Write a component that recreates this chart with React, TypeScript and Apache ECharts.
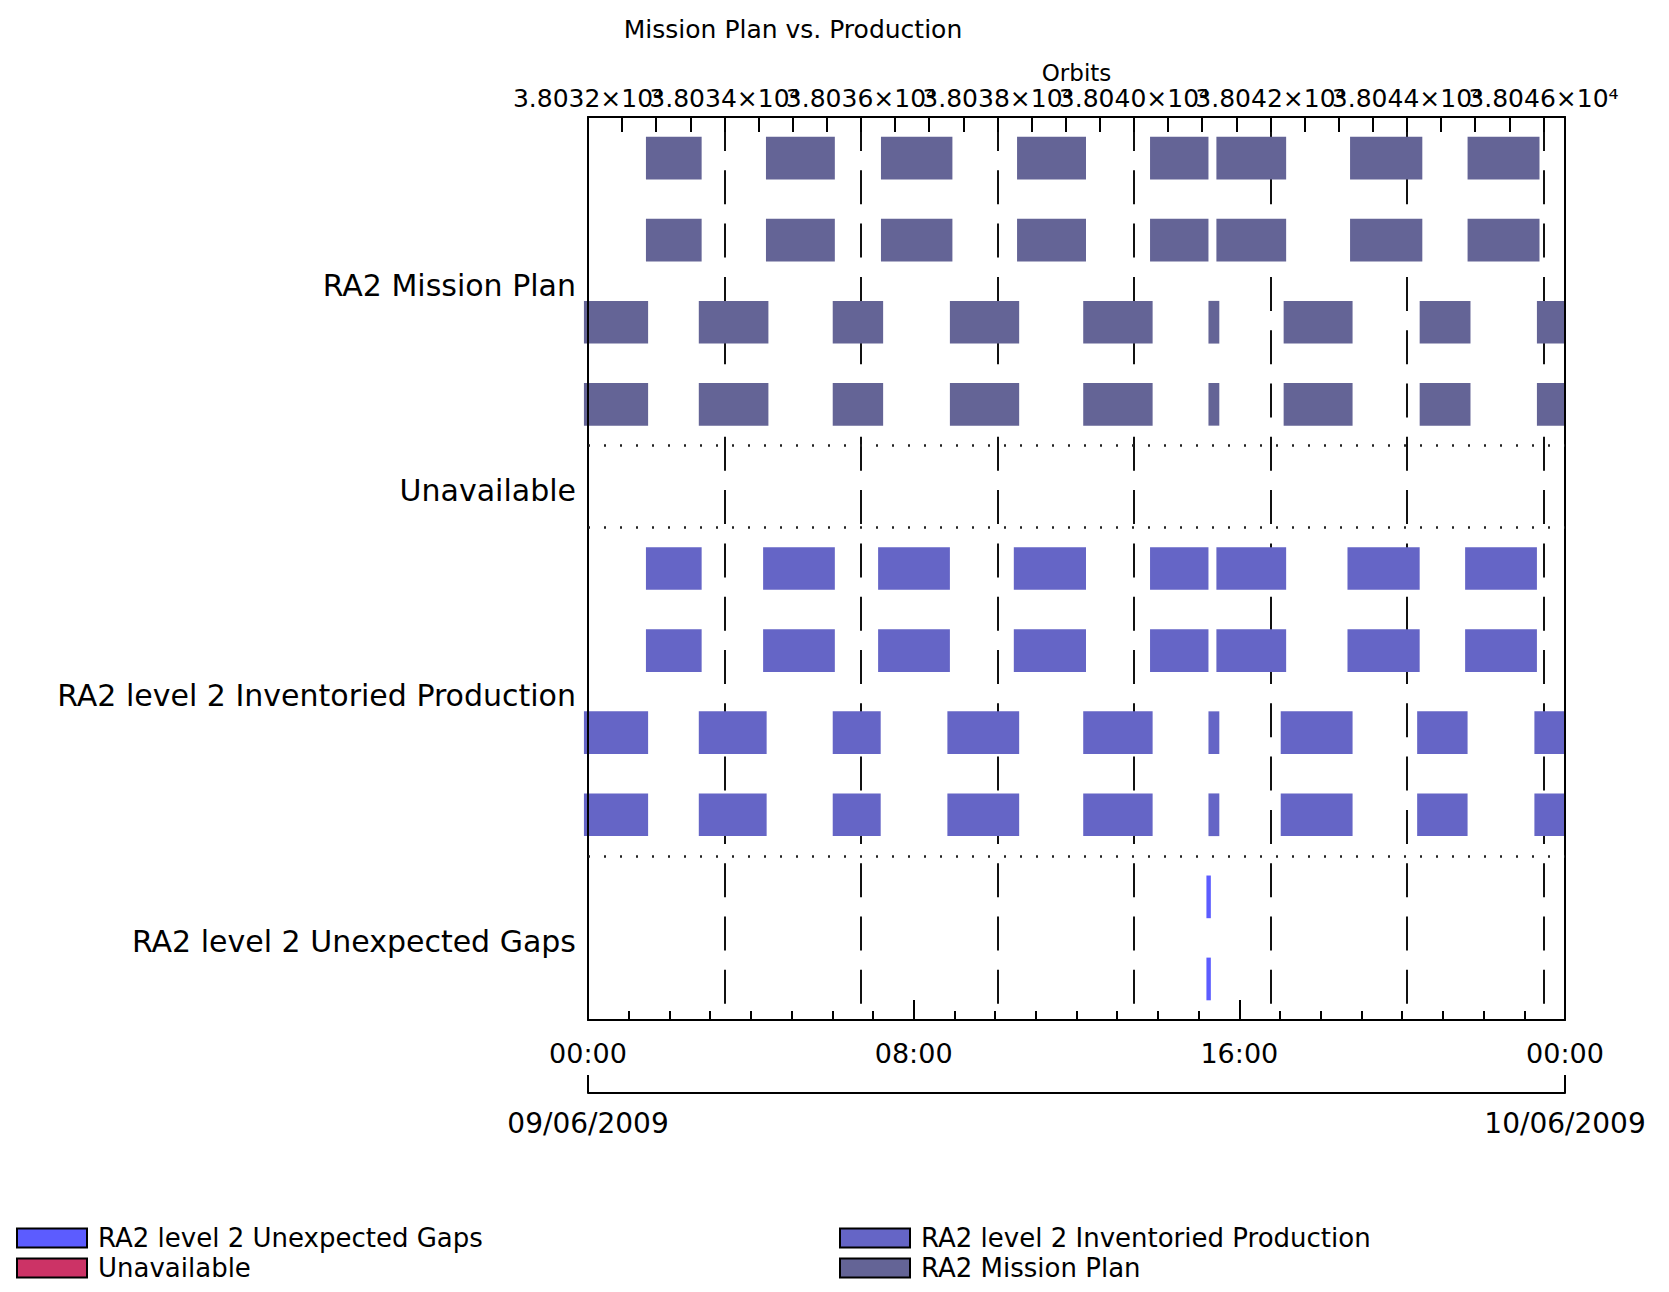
import React, { useEffect, useRef } from 'react';
import * as echarts from 'echarts';

const TITLE = 'Mission Plan vs. Production';
const ORBIT_AXIS_NAME = 'Orbits';
const SERIES_NAMES = [
  'RA2 Mission Plan',
  'Unavailable',
  'RA2 level 2 Inventoried Production',
  'RA2 level 2 Unexpected Gaps',
];
// y position (in row units, 11 rows) of each category label
const ROW_LABEL_POS = [2, 4.5, 7, 10];
const DATE_LABELS = ['09/06/2009', '10/06/2009'];

// orbit numbers at the left and right edges of the day
const ORBIT_MIN = 38032;
const ORBIT_MAX = 38046.316;
const ORBIT_LABEL_STEP = 2;

// intervals in minutes from 00:00 on 09/06/2009
const planPassA = [
  [85.4, 167.5], [262.3, 363.8], [431.8, 537.1], [632.4, 734.0],
  [828.4, 914.5], [926.2, 1029.0], [1123.2, 1229.7], [1296.4, 1402.4],
];
const planPassB = [
  [-6, 88.6], [163.3, 265.9], [360.7, 435.0], [533.4, 635.5], [729.9, 832.2],
  [914.5, 930.5], [1025.3, 1126.9], [1225.8, 1300.7], [1398.6, 1440],
];
const prodPassA = [
  [85.4, 167.5], [258.1, 363.8], [427.6, 533.4], [627.6, 734.0],
  [828.4, 914.5], [926.2, 1029.0], [1119.4, 1225.8], [1292.8, 1398.6],
];
const prodPassB = [
  [-6, 88.6], [163.3, 263.3], [360.7, 431.4], [529.7, 635.5], [729.9, 832.2],
  [914.5, 930.5], [1021.0, 1126.9], [1222.1, 1296.4], [1394.9, 1440],
];
const unavailableIntervals: number[][] = [];
const gapIntervals = [[911.5, 918]];

// rows (0 = top) each interval list is drawn in
const planRowsA = [0, 1];
const planRowsB = [2, 3];
const prodRowsA = [5, 6];
const prodRowsB = [7, 8];
const gapRows = [9, 10];
// boundaries between categories (dotted lines)
const CATEGORY_BOUNDARIES = [4, 5, 9];

// legend layout: [series index, column, row]
const LEGEND_ITEMS = [
  [3, 0, 0],
  [1, 0, 1],
  [2, 1, 0],
  [0, 1, 1],
];

const COLORS = {
  plan: '#646496',
  unavailable: '#cc3366',
  prod: '#6565c6',
  gaps: '#5c5cff',
};

const FONT = 'DejaVu Sans';

function build(lists: [number[][], number[]][]) {
  const out: number[][] = [];
  lists.forEach(([intervals, rows]) => {
    rows.forEach((r) => intervals.forEach(([s, e]) => out.push([s, e, r])));
  });
  return out;
}

function renderBar(color: string) {
  return (params: any, api: any) => {
    const s = api.value(0);
    const e = api.value(1);
    const r = api.value(2);
    const p0 = api.coord([s, r + 0.5]);
    const p1 = api.coord([e, r + 0.5]);
    const h = api.size([0, 1])[1] * 0.52;
    return {
      type: 'rect',
      shape: { x: p0[0], y: p0[1] - h / 2, width: p1[0] - p0[0], height: h },
      style: { fill: color },
    };
  };
}

function hhmm(v: number) {
  const m = ((Math.round(v) % 1440) + 1440) % 1440;
  const h = Math.floor(m / 60);
  const mm = m % 60;
  return String(h).padStart(2, '0') + ':' + String(mm).padStart(2, '0');
}

function orbitLabel(k: number) {
  return (k / 1e4).toFixed(4) + '×10⁴';
}

export default function App() {
  const ref = useRef<HTMLDivElement>(null);
  useEffect(() => {
    if (!ref.current) return;
    const chart = echarts.init(ref.current, null, { renderer: 'svg' });
    const gridLeft = 588;
    const gridTop = 117;
    const gridW = 977;
    const gridH = 903;
    const axisLine = { show: true, onZero: false, lineStyle: { color: '#000', width: 2 } };
    const mkSeries = (name: string, color: string, data: number[][], extra: any = {}) => ({
      type: 'custom',
      name,
      xAxisIndex: 0,
      yAxisIndex: 0,
      itemStyle: { color },
      encode: { x: [0, 1], y: 2 },
      renderItem: renderBar(color),
      data,
      ...extra,
    });
    const legends = LEGEND_ITEMS.map(([si, col, row]) => ({
      orient: 'horizontal',
      left: col === 0 ? 11 : 834,
      top: 1220 + row * 30,
      icon: 'rect',
      itemWidth: 70,
      itemHeight: 19,
      selectedMode: false,
      padding: 5,
      itemStyle: { borderColor: '#000', borderWidth: 2 },
      textStyle: { fontFamily: FONT, fontSize: 26, color: '#000', padding: [0, 0, 0, 6] },
      data: [SERIES_NAMES[si]],
    }));
    // two label-only top axes carrying alternate orbit labels, so that the
    // (overlapping, as in the original) labels are not hidden by the
    // min/max label overlap check
    const orbitLabelAxis = (phase: number) => ({
      type: 'value',
      position: 'top',
      min: ORBIT_MIN,
      max: ORBIT_MAX,
      interval: ORBIT_LABEL_STEP,
      axisLine: { show: false, onZero: false },
      axisTick: { show: false },
      minorTick: { show: false },
      splitLine: { show: false },
      axisLabel: {
        formatter: (v: number) => {
          const k = Math.round(v);
          if (Math.abs(v - k) > 1e-6) return '';
          const idx = Math.round((k - ORBIT_MIN) / ORBIT_LABEL_STEP);
          if (idx % 2 !== phase) return '';
          return orbitLabel(k);
        },
        fontFamily: FONT,
        fontSize: 25,
        color: '#000',
        margin: 6,
        showMinLabel: true,
        showMaxLabel: true,
        hideOverlap: false,
      },
    });
    chart.setOption({
      animation: false,
      backgroundColor: '#fff',
      textStyle: { fontFamily: FONT, color: '#000' },
      grid: { left: gridLeft, top: gridTop, width: gridW, height: gridH, show: false },
      graphic: [
        {
          type: 'text',
          x: 793,
          y: 29,
          style: {
            text: TITLE,
            align: 'center',
            verticalAlign: 'middle',
            fontFamily: FONT,
            fontSize: 25,
            fill: '#000',
          },
        },
      ],
      legend: legends,
      xAxis: [
        {
          type: 'value',
          position: 'bottom',
          min: 0,
          max: 1440,
          interval: 480,
          z: 3,
          axisLine,
          axisTick: { show: true, inside: true, length: 20, lineStyle: { color: '#000', width: 2 } },
          minorTick: { show: true, splitNumber: 8, length: 9, lineStyle: { color: '#000', width: 2 } },
          splitLine: { show: false },
          axisLabel: {
            formatter: (v: number) => hhmm(v),
            fontFamily: FONT,
            fontSize: 27,
            color: '#000',
            margin: 20,
            showMinLabel: true,
            showMaxLabel: true,
          },
        },
        {
          type: 'value',
          position: 'top',
          min: ORBIT_MIN,
          max: ORBIT_MAX,
          interval: ORBIT_LABEL_STEP,
          name: ORBIT_AXIS_NAME,
          nameLocation: 'middle',
          nameGap: 33,
          nameMoveOverlap: false,
          nameTextStyle: { fontFamily: FONT, fontSize: 23, color: '#000' },
          axisLine,
          axisTick: { show: true, inside: true, length: 15, lineStyle: { color: '#000', width: 2 } },
          minorTick: { show: true, splitNumber: 4, length: 15, lineStyle: { color: '#000', width: 2 } },
          splitLine: { show: true, lineStyle: { color: '#111', width: 2, type: [34, 19.3] } },
          axisLabel: { show: false },
        },
        {
          type: 'value',
          position: 'bottom',
          offset: 73,
          min: 0,
          max: 1440,
          interval: 1440,
          axisLine,
          axisTick: { show: true, inside: true, length: 18, lineStyle: { color: '#000', width: 2 } },
          splitLine: { show: false },
          axisLabel: {
            formatter: (v: number) => (v < 720 ? DATE_LABELS[0] : DATE_LABELS[1]),
            fontFamily: FONT,
            fontSize: 28,
            color: '#000',
            margin: 16,
            showMinLabel: true,
            showMaxLabel: true,
          },
        },
        orbitLabelAxis(0),
        orbitLabelAxis(1),
      ],
      yAxis: [
        {
          type: 'value',
          inverse: true,
          min: 0,
          max: 11,
          interval: 0.5,
          z: 3,
          axisLine,
          axisTick: { show: false },
          splitLine: { show: false },
          axisLabel: {
            formatter: (v: number) => {
              const i = ROW_LABEL_POS.findIndex((p) => Math.abs(p - v) < 1e-6);
              return i >= 0 ? '{a|' + SERIES_NAMES[i] + '}' : '';
            },
            color: '#000',
            margin: 12,
            rich: {
              a: { fontFamily: FONT, fontSize: 30, color: '#000', padding: [8, 0, 0, 0] },
            },
          },
        },
        {
          type: 'value',
          position: 'right',
          inverse: true,
          min: 0,
          max: 11,
          z: 3,
          axisLine,
          axisTick: { show: false },
          splitLine: { show: false },
          axisLabel: { show: false },
        },
      ],
      series: [
        mkSeries(SERIES_NAMES[0], COLORS.plan, build([[planPassA, planRowsA], [planPassB, planRowsB]]), {
          markLine: {
            silent: true,
            symbol: 'none',
            label: { show: false },
            lineStyle: { color: '#222', width: 2.5, type: [2, 14], dashOffset: 0 },
            data: CATEGORY_BOUNDARIES.map((y) => ({ yAxis: y })),
          },
        }),
        mkSeries(SERIES_NAMES[1], COLORS.unavailable, build([[unavailableIntervals, [4]]])),
        mkSeries(SERIES_NAMES[2], COLORS.prod, build([[prodPassA, prodRowsA], [prodPassB, prodRowsB]])),
        mkSeries(SERIES_NAMES[3], COLORS.gaps, build([[gapIntervals, gapRows]])),
      ],
    });
    return () => chart.dispose();
  }, []);
  return (
    <div
      ref={ref}
      style={{ position: 'fixed', left: 0, top: 0, width: 1669, height: 1292, background: '#fff' }}
    />
  );
}
